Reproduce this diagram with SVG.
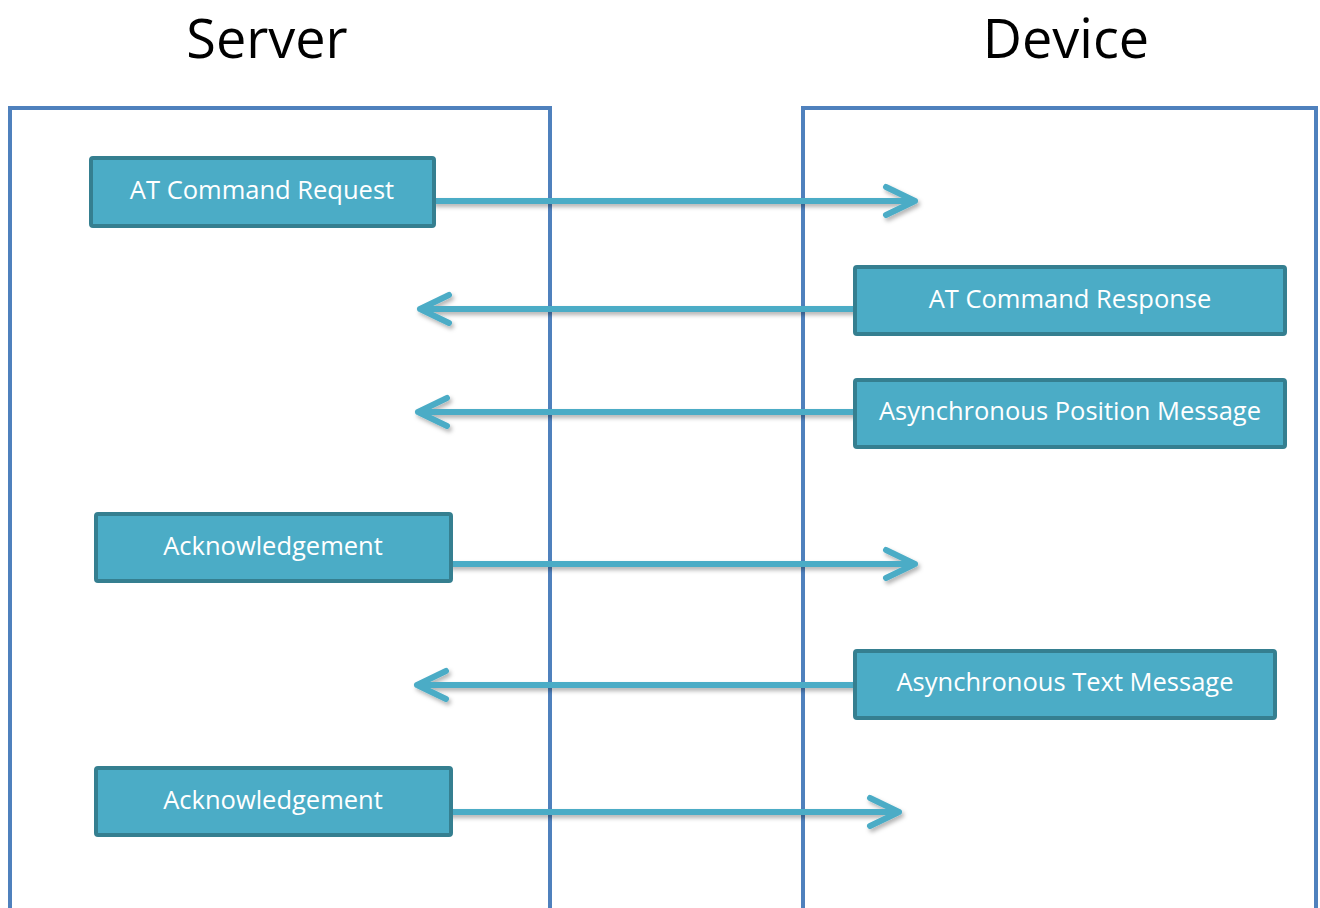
<svg xmlns="http://www.w3.org/2000/svg" width="1320" height="908" viewBox="0 0 1320 908">
<style>
.title{font-family:"Open Sans","Liberation Sans",sans-serif;font-size:54px;fill:#000;text-anchor:middle}
.lane{fill:none;stroke:#4F81BD;stroke-width:4}
.box{fill:#4BACC6;stroke:#357F90;stroke-width:4}
.lbl{font-family:"Open Sans","Liberation Sans",sans-serif;font-size:25.5px;fill:#fff;text-anchor:middle}
.arr{fill:none;stroke:#4BACC6;stroke-width:6;stroke-linecap:round;stroke-linejoin:round}
</style>
<defs>
<filter id="sh" x="-5%" y="-50%" width="110%" height="200%">
<feDropShadow dx="2" dy="3" stdDeviation="2" flood-color="#000" flood-opacity="0.3"/>
</filter>
</defs>
<rect width="1320" height="908" fill="#fff"/>
<text class="title" x="267" y="58">Server</text>
<text class="title" x="1066" y="58">Device</text>
<g id="lanes">
<path class="lane" d="M10,910 V108 H550 V910"/>
<path class="lane" d="M803,910 V108 H1316 V910"/>
</g>
<g id="connectors" filter="url(#sh)">
<path class="arr" d="M434,201 H915 M886,187 L915,201 L886,215"/>
<path class="arr" d="M854,309 H420 M449,295 L420,309 L449,323"/>
<path class="arr" d="M854,412 H418 M447,398 L418,412 L447,426"/>
<path class="arr" d="M451,564 H915 M886,550 L915,564 L886,578"/>
<path class="arr" d="M854,685 H417 M446,671 L417,685 L446,699"/>
<path class="arr" d="M433,812 H899 M870,798 L899,812 L870,826"/>
</g>
<g id="n1"><rect class="box" x="91" y="158" width="343" height="68" rx="2"/><text class="lbl" x="262" y="199">AT Command Request</text></g>
<g id="n2"><rect class="box" x="855" y="267" width="430" height="67" rx="2"/><text class="lbl" x="1070" y="308">AT Command Response</text></g>
<g id="n3"><rect class="box" x="855" y="380" width="430" height="67" rx="2"/><text class="lbl" x="1070" y="420">Asynchronous Position Message</text></g>
<g id="n4"><rect class="box" x="96" y="514" width="355" height="67" rx="2"/><text class="lbl" x="273" y="555">Acknowledgement</text></g>
<g id="n5"><rect class="box" x="855" y="651" width="420" height="67" rx="2"/><text class="lbl" x="1065" y="691">Asynchronous Text Message</text></g>
<g id="n6"><rect class="box" x="96" y="768" width="355" height="67" rx="2"/><text class="lbl" x="273" y="809">Acknowledgement</text></g>
</svg>
